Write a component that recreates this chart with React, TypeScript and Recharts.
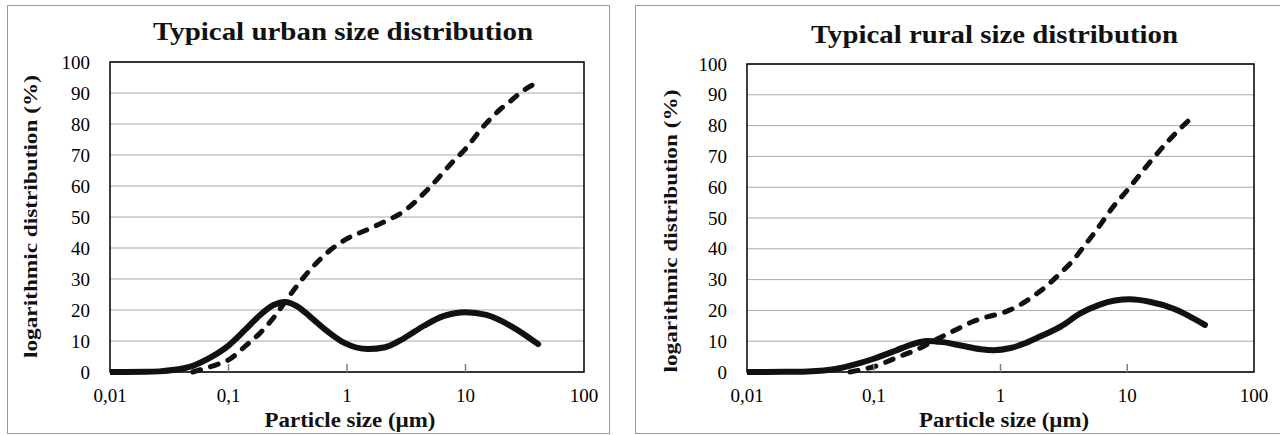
import React from 'react';
import { LineChart, Line, XAxis, YAxis, CartesianGrid, ReferenceArea } from 'recharts';

// ---------- data ----------
const X_TICKS = [0.01, 0.1, 1, 10, 100];
const X_TICK_LABELS = ['0,01', '0,1', '1', '10', '100'];
const Y_TICKS = [0, 10, 20, 30, 40, 50, 60, 70, 80, 90, 100];

const URBAN_TITLE = 'Typical urban size distribution';
const RURAL_TITLE = 'Typical rural size distribution';
const X_TITLE = 'Particle size (µm)';
const Y_TITLE = 'logarithmic distribution (%)';

// urban, solid curve
const URBAN_SOLID_X = [0.01, 0.02, 0.026, 0.035, 0.05, 0.07, 0.1, 0.14, 0.185, 0.24, 0.3, 0.38, 0.49, 0.68, 0.95, 1.5, 2.1, 3, 4.5, 6.5, 10, 15, 25, 41];
const URBAN_SOLID_Y = [0, 0.05, 0.2, 0.7, 2, 4.6, 8.5, 13.8, 18.4, 21.6, 22.6, 21.2, 17.8, 13.2, 9.4, 7.4, 8, 10.8, 15, 18, 19.3, 18.4, 14.5, 9];

// urban, dashed curve
const URBAN_DASH_X = [0.05, 0.061, 0.08, 0.1, 0.14, 0.185, 0.24, 0.3, 0.4, 0.49, 0.68, 1, 1.5, 2, 3, 5, 7.8, 10, 14, 20, 24, 30, 40];
const URBAN_DASH_Y = [0, 1, 2.4, 3.9, 8.5, 12.6, 17.5, 22.6, 29, 33, 38.5, 43, 46, 48.2, 51.8, 59.6, 67.8, 72, 79, 85, 87.4, 90.5, 93.3];

// rural, solid curve
const RURAL_SOLID_X = [0.01, 0.02, 0.03, 0.05, 0.07, 0.1, 0.15, 0.2, 0.262, 0.35, 0.5, 0.7, 0.88, 1.2, 1.6, 2.05, 3, 4.26, 6, 8, 10.5, 15, 23, 30, 41];
const RURAL_SOLID_Y = [0, 0.05, 0.2, 1, 2.4, 4.3, 7, 9, 10.1, 9.7, 8.5, 7.4, 7.1, 7.8, 9.5, 11.5, 14.8, 19, 21.8, 23.2, 23.6, 22.8, 20.6, 18.4, 15.3];

// rural, dashed curve
const RURAL_DASH_X = [0.065, 0.08, 0.1, 0.15, 0.23, 0.3, 0.45, 0.6, 0.8, 1, 1.4, 1.8, 2.4, 2.95, 3.6, 4.5, 5.7, 7.7, 10, 15, 21.6, 33];
const RURAL_DASH_Y = [0, 0.8, 1.7, 4.6, 7.7, 10.2, 13.8, 16.3, 18, 19, 21.6, 24.5, 28.5, 32, 35.5, 40.5, 46, 53.5, 59, 68, 75.5, 83];

const toPoints = (xs: number[], ys: number[]) => xs.map((x, i) => ({ x, y: ys[i] }));

const SERIF = 'Liberation Serif';

type Geometry = {
  left: number;
  margin: { top: number; right: number; bottom: number; left: number };
  titleX: number; titleY: number; titleLen: number;
  xTitleX: number; xTitleY: number; xTitleLen: number;
  yTitleX: number; yTitleY: number; yTitleLen: number;
};

const XTick = (props: any) => {
  const { x, y, payload, index } = props;
  const i = X_TICKS.indexOf(payload.value);
  const label = i >= 0 ? X_TICK_LABELS[i] : String(payload.value);
  const showMark = index !== 0 && index !== X_TICKS.length - 1;
  return (
    <g>
      {showMark && <line x1={x} x2={x} y1={y} y2={y - 8} stroke="#808080" strokeWidth={1.5} />}
      <text x={x} y={y + 29.5} textAnchor="middle" style={{ fontFamily: SERIF, fontSize: 19 }} fill="#000">
        {label}
      </text>
    </g>
  );
};

const YTick = (props: any) => {
  const { x, y, payload } = props;
  return (
    <text x={x} y={y + 6.5} textAnchor="end" style={{ fontFamily: SERIF, fontSize: 19 }} fill="#000">
      {payload.value}
    </text>
  );
};

const W = 640;
const H = 435;

function Panel(props: {
  title: string;
  solid: { x: number; y: number }[];
  dashed: { x: number; y: number }[];
  g: Geometry;
}) {
  const { title, solid, dashed, g } = props;
  return (
    <div style={{ position: 'absolute', left: g.left, top: 0, width: W, height: H }}>
      <LineChart width={W} height={H} margin={g.margin}>
        <CartesianGrid vertical={false} stroke="#a8a8a8" strokeWidth={1} />
        <XAxis
          dataKey="x"
          type="number"
          scale="log"
          domain={[0.01, 100]}
          ticks={X_TICKS}
          interval={0}
          allowDataOverflow
          axisLine={false}
          tickLine={false}
          tickSize={0}
          tickMargin={0}
          height={40}
          tick={<XTick />}
        />
        <YAxis
          type="number"
          domain={[0, 100]}
          ticks={Y_TICKS}
          interval={0}
          axisLine={false}
          tickLine={false}
          tickSize={0}
          tickMargin={20}
          width={60}
          tick={<YTick />}
        />
        <ReferenceArea x1={0.01} x2={100} y1={0} y2={100} fill="none" fillOpacity={0} stroke="#000" strokeWidth={1.5} />
        <Line
          data={dashed}
          dataKey="y"
          type="monotone"
          stroke="#111"
          strokeWidth={5}
          strokeDasharray="8 10.5"
          strokeLinecap="round"
          dot={false}
          activeDot={false}
          isAnimationActive={false}
        />
        <Line
          data={solid}
          dataKey="y"
          type="monotone"
          stroke="#111"
          strokeWidth={6}
          strokeLinecap="round"
          dot={false}
          activeDot={false}
          isAnimationActive={false}
        />
      </LineChart>
      <svg
        width={W}
        height={H}
        style={{ position: 'absolute', left: 0, top: 0, pointerEvents: 'none' }}
      >
        <text
          x={g.titleX}
          y={g.titleY}
          textAnchor="middle"
          style={{ fontFamily: SERIF, fontWeight: 'bold', fontSize: 25 }}
          textLength={g.titleLen}
          lengthAdjust="spacingAndGlyphs"
          fill="#111"
        >
          {title}
        </text>
        <text
          x={g.xTitleX}
          y={g.xTitleY}
          textAnchor="middle"
          style={{ fontFamily: SERIF, fontWeight: 'bold', fontSize: 20 }}
          textLength={g.xTitleLen}
          lengthAdjust="spacingAndGlyphs"
          fill="#111"
        >
          {X_TITLE}
        </text>
        <text
          x={0}
          y={0}
          transform={`translate(${g.yTitleX},${g.yTitleY}) rotate(-90)`}
          textAnchor="middle"
          style={{ fontFamily: SERIF, fontWeight: 'bold', fontSize: 19 }}
          textLength={g.yTitleLen}
          lengthAdjust="spacingAndGlyphs"
          fill="#111"
        >
          {Y_TITLE}
        </text>
      </svg>
    </div>
  );
}

const LEFT_GEOM: Geometry = {
  left: 0,
  margin: { top: 62, right: 56, bottom: 23, left: 50 },
  titleX: 343, titleY: 40, titleLen: 380,
  xTitleX: 350, xTitleY: 427, xTitleLen: 171,
  yTitleX: 37, yTitleY: 216.5, yTitleLen: 283,
};

const RIGHT_GEOM: Geometry = {
  left: 640,
  margin: { top: 64, right: 26, bottom: 23, left: 47 },
  titleX: 354.5, titleY: 43, titleLen: 367,
  xTitleX: 364, xTitleY: 427, xTitleLen: 170,
  yTitleX: 37, yTitleY: 231, yTitleLen: 283,
};

export default function App() {
  return (
    <div
      style={{
        position: 'absolute',
        left: 0,
        top: 0,
        width: 1280,
        height: 435,
        overflow: 'hidden',
        background: '#fff',
      }}
    >
      <div
        style={{
          position: 'absolute',
          left: 7,
          top: 5,
          width: 603,
          height: 429,
          boxSizing: 'border-box',
          border: '1.5px solid #9a9a9a',
        }}
      />
      <div
        style={{
          position: 'absolute',
          left: 635,
          top: 5,
          width: 700,
          height: 429,
          boxSizing: 'border-box',
          border: '1.5px solid #9a9a9a',
        }}
      />
      <Panel
        title={URBAN_TITLE}
        solid={toPoints(URBAN_SOLID_X, URBAN_SOLID_Y)}
        dashed={toPoints(URBAN_DASH_X, URBAN_DASH_Y)}
        g={LEFT_GEOM}
      />
      <Panel
        title={RURAL_TITLE}
        solid={toPoints(RURAL_SOLID_X, RURAL_SOLID_Y)}
        dashed={toPoints(RURAL_DASH_X, RURAL_DASH_Y)}
        g={RIGHT_GEOM}
      />
    </div>
  );
}
